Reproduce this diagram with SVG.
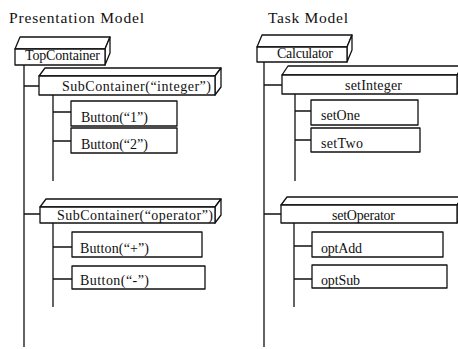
<svg xmlns="http://www.w3.org/2000/svg" width="458" height="349" viewBox="0 0 458 349">
<style>
.b{fill:#fff;stroke:#111;stroke-width:1.3;stroke-linejoin:round}
.c{fill:none;stroke:#111;stroke-width:1.3}
text{font-family:"Liberation Serif","Times New Roman",serif;fill:#111;font-size:14px}
.t{font-size:15.5px}
</style>
<rect width="458" height="349" fill="#fff"/>
<text class="t" x="9" y="23" textLength="135" lengthAdjust="spacing">Presentation Model</text>
<text class="t" x="268" y="23" textLength="80" lengthAdjust="spacing">Task Model</text>
<g id="connectors">
<path class="c" d="M24 65V347M24 86H39M24 214H40"/>
<path class="c" d="M53 95V181M53 112H71M53 141H71"/>
<path class="c" d="M53 223V307M53 247H72M53 279H72"/>
<path class="c" d="M264 62V347M264 85H282M264 214H281"/>
<path class="c" d="M295 94V181M295 111H311M295 140H311"/>
<path class="c" d="M294 223V307M294 246H312M294 279H312"/>
</g>
<g id="TopContainer">
<path class="b" d="M15 49L20 37H110L105 49Z"/>
<path class="b" d="M105 49L110 37V53L105 65Z"/>
<rect class="b" x="15" y="49" width="90" height="16"/>
<text x="25" y="60" textLength="75" lengthAdjust="spacing">TopContainer</text>
</g>
<g id="SubContainerInteger">
<path class="b" d="M39 76L45 68H221L215 76Z"/>
<path class="b" d="M215 76L221 68V87L215 95Z"/>
<rect class="b" x="39" y="76" width="176" height="19"/>
<text x="62" y="91" textLength="149" lengthAdjust="spacing">SubContainer(“integer”)</text>
</g>
<g id="Button1">
<rect class="b" x="71" y="101" width="106" height="25"/>
<text x="81" y="122" textLength="67" lengthAdjust="spacing">Button(“1”)</text>
</g>
<g id="Button2">
<rect class="b" x="71" y="128" width="106" height="25"/>
<text x="81" y="149" textLength="67" lengthAdjust="spacing">Button(“2”)</text>
</g>
<g id="SubContainerOperator">
<path class="b" d="M40 207L46 199H221L215 207Z"/>
<path class="b" d="M215 207L221 199V215L215 223Z"/>
<rect class="b" x="40" y="207" width="175" height="16"/>
<text x="57" y="220" textLength="156" lengthAdjust="spacing">SubContainer(“operator”)</text>
</g>
<g id="ButtonPlus">
<rect class="b" x="72" y="232" width="130" height="25"/>
<text x="80" y="253" textLength="69" lengthAdjust="spacing">Button(“+”)</text>
</g>
<g id="ButtonMinus">
<rect class="b" x="72" y="266" width="133" height="23"/>
<text x="80" y="285" textLength="69" lengthAdjust="spacing">Button(“-”)</text>
</g>
<g id="Calculator">
<path class="b" d="M257 47L262 35H352L347 47Z"/>
<path class="b" d="M347 47L352 35V50L347 62Z"/>
<rect class="b" x="257" y="47" width="90" height="15"/>
<text x="277" y="58" textLength="56" lengthAdjust="spacing">Calculator</text>
</g>
<g id="setInteger">
<path class="b" d="M282 75L288 66H463L457 75Z"/>
<path class="b" d="M457 75L463 66V85L457 94Z"/>
<rect class="b" x="282" y="75" width="175" height="19"/>
<text x="345" y="90" textLength="57" lengthAdjust="spacing">setInteger</text>
</g>
<g id="setOne">
<rect class="b" x="311" y="100" width="107" height="25"/>
<text x="321" y="120" textLength="39" lengthAdjust="spacing">setOne</text>
</g>
<g id="setTwo">
<rect class="b" x="311" y="128" width="109" height="24"/>
<text x="321" y="148" textLength="42" lengthAdjust="spacing">setTwo</text>
</g>
<g id="setOperator">
<path class="b" d="M281 205L287 197H463L457 205Z"/>
<path class="b" d="M457 205L463 197V215L457 223Z"/>
<rect class="b" x="281" y="205" width="176" height="18"/>
<text x="332" y="220" textLength="63" lengthAdjust="spacing">setOperator</text>
</g>
<g id="optAdd">
<rect class="b" x="312" y="232" width="131" height="25"/>
<text x="321" y="253" textLength="41" lengthAdjust="spacing">optAdd</text>
</g>
<g id="optSub">
<rect class="b" x="312" y="265" width="135" height="23"/>
<text x="321" y="285" textLength="39" lengthAdjust="spacing">optSub</text>
</g>
</svg>
